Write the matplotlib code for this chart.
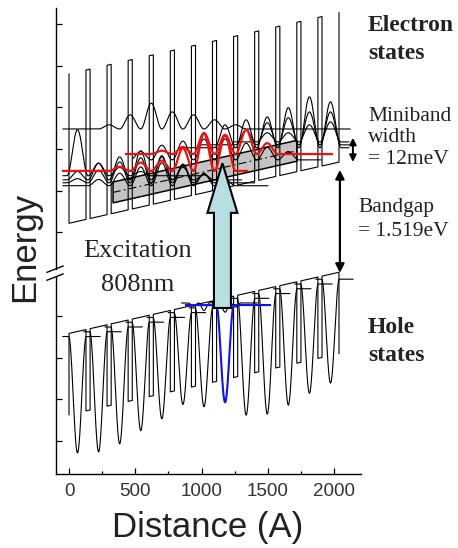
import numpy as np
import matplotlib
matplotlib.use("Agg")
import matplotlib.pyplot as plt
from matplotlib.patches import FancyArrow, Polygon

# ---- superlattice geometry (Angstrom) and band edges (arb. energy units) ----
period = 159.0
well_w = 128.0
n_wells = 13
field = 7.2e-4          # band-edge rise per Angstrom
ec_first = 5.22         # conduction band edge in the first well
ev_first = 2.58         # valence band edge in the first well
barrier_e = 3.58        # conduction barrier height
barrier_h = 1.95        # valence barrier depth

# ---- electron miniband ----
mb_x = [332, 1719]
mb_centre0 = 5.72
mb_half = 0.25

# ---- electron states (black): baseline, extent, peak amplitude per well ----
e_base = [6.36, 6.26, 6.19, 6.12, 6.74, 7.03, 7.10, 7.17, 7.48]
e_x0 = [-45, -45, -45, -45, 480, 830, 980, 1250, -45]
e_x1 = [1000, 1300, 1400, 1500, 1900, 2110, 2110, 2110, 2120]
e_wells = [
    [0, 1, 2, 3],
    [0, 1, 2, 3, 4, 5, 6],
    [0, 1, 2, 3, 4, 5, 6],
    [1, 2, 3, 4, 5, 6, 7],
    [3, 4, 5, 6, 7, 8, 9, 10],
    [7, 8, 9, 10, 11, 12],
    [8, 9, 10, 11, 12],
    [9, 10, 11, 12],
    [1.5, 2.5, 3.5, 4.5, 5.5, 6.5, 7.5],
]
e_amps = [
    [1.10, 0.30, 0.20, 0.10],
    [0.20, 0.40, 0.55, 0.70, 0.55, 0.30, 0.12],
    [0.10, 0.30, 0.50, 0.60, 0.65, 0.45, 0.20],
    [0.15, 0.30, 0.45, 0.55, 0.50, 0.30, 0.15],
    [0.20, 0.35, 0.45, 0.50, 0.50, 0.40, 0.30, 0.20],
    [0.55, 0.67, 0.74, 0.96, 1.22, 1.10],
    [0.36, 0.53, 0.65, 0.79, 0.79],
    [0.22, 0.22, 0.41, 0.48],
    [0.10, 0.34, 0.62, 0.41, 0.34, 0.22, 0.10],
]

# ---- electron states highlighted in red ----
r_base = [6.475, 6.88]
r_x0 = [-45, 430]
r_x1 = [1342, 1983]
r_wells = [[2, 3, 4, 5, 6, 7], [4, 5, 6, 7, 8, 9]]
r_amps = [[0.10, 0.20, 0.25, 0.55, 0.90, 0.85],
          [0.08, 0.17, 0.50, 0.46, 0.58, 0.26]]

# ---- localized hole states: well index and depth of |psi|^2 ----
h_wells = [0, 1, 2, 3, 4, 5, 6, 8, 9, 10, 11, 12]
h_depth = [2.79, 2.88, 2.80, 2.60, 2.43, 2.20, 2.37, 2.80, 2.89, 2.79, 2.62, 2.49]
h_level_offset = 0.12

# hole state excited by the laser (blue) and its delocalized neighbour
blue_base, blue_x = 3.26, [882, 1516]
blue_well, blue_depth = 7, 2.33
wig_base, wig_x = 3.31, [850, 1420]
wig_wells = [5.5, 6, 6.5, 7, 7.5]
wig_amps = [-0.08, -0.18, 0.04, -0.22, -0.10]

# ---- annotations ----
pump_x, pump_y = 1157, [3.19, 6.66]
gap_x, gap_y = 2043, [4.03, 6.50]
mbw_x, mbw_y = 2141, [6.69, 7.27]

x_ticks = [0, 500, 1000, 1500, 2000]
y_ticks = [0, 1, 2, 3, 5, 6, 7, 8, 9, 10]


def well_pos(k):
    return well_w / 2 + period * np.asarray(k, dtype=float)


def wave(base, x0, x1, wells, amps, hw):
    x = np.linspace(x0, x1, 1200)
    y = np.full_like(x, base)
    for p, a in zip(well_pos(wells), amps):
        u = (x - p) / hw
        m = np.abs(u) < 1
        y[m] += a * np.cos(np.pi * u[m] / 2) ** 2
    return x, y


def band_profile(base, height):
    xs = [0.0, 0.0]
    ys = [base + height, base]
    for k in range(n_wells):
        xl = k * period
        xr = xl + well_w
        xs += [xr, xr]
        ys += [base + field * xr, base + height + field * xr]
        if k < n_wells - 1:
            xn = (k + 1) * period
            xs += [xn, xn]
            ys += [base + height + field * xn, base + field * xn]
    return np.array(xs), np.array(ys)


serif = "Liberation Serif"
sans = "Liberation Sans"
txt = "#222222"

fig = plt.figure(figsize=(4.58, 5.48), dpi=100)
ax = fig.add_axes([0.1223, 0.135, 0.6659, 0.8504])
ax.set_xlim(-98, 2202)
ax.set_ylim(-0.79, 10.38)

# band edges
for base, h in [(ec_first, barrier_e), (ev_first, -barrier_h)]:
    bx, by = band_profile(base, h)
    ax.plot(bx, by, color="black", lw=0.8, zorder=2)

# miniband
mx = np.array(mb_x, dtype=float)
mc = mb_centre0 + field * mx
ax.add_patch(Polygon([(mx[0], mc[0] - mb_half), (mx[1], mc[1] - mb_half),
                      (mx[1], mc[1] + mb_half), (mx[0], mc[0] + mb_half)],
                     closed=True, fc="#c4c4c4", ec="black", lw=1.1, zorder=1))
ax.plot(mx, mc, color="black", lw=0.8, ls=(0, (7, 3, 1.5, 3)), zorder=2)

# electron states
for b, x0, x1, w, a in zip(e_base, e_x0, e_x1, e_wells, e_amps):
    x, y = wave(b, x0, x1, w, a, period / 2)
    ax.plot(x, y, color="black", lw=0.8, zorder=3)
for b, x0, x1, w, a in zip(r_base, r_x0, r_x1, r_wells, r_amps):
    x, y = wave(b, x0, x1, w, a, period / 2)
    ax.plot(x, y, color="#ee1111", lw=1.6, zorder=4)

# hole states
for k, d in zip(h_wells, h_depth):
    c = well_pos(k)
    lev = ev_first + field * c - h_level_offset
    x, y = wave(lev, c - 110, c + 170, [k], [-d], 66)
    ax.plot(x, y, color="black", lw=0.8, zorder=3)
x, y = wave(wig_base, wig_x[0], wig_x[1], wig_wells, wig_amps, period / 4)
ax.plot(x, y, color="black", lw=0.8, zorder=3)
x, y = wave(blue_base, blue_x[0], blue_x[1], [blue_well], [-blue_depth], 66)
ax.plot(x, y, color="#1111ee", lw=1.5, zorder=4)

# optical excitation arrow
ax.add_patch(FancyArrow(pump_x, pump_y[0], 0, pump_y[1] - pump_y[0],
                        width=128, head_width=226, head_length=1.19,
                        length_includes_head=True, fc="#b7dfe2", ec="black",
                        lw=1.5, zorder=6))

# bandgap and miniband-width arrows
ax.annotate("", xy=(gap_x, gap_y[1]), xytext=(gap_x, gap_y[0]),
            arrowprops=dict(arrowstyle="<|-|>", color="black", lw=1.6,
                            mutation_scale=13, shrinkA=0, shrinkB=0),
            annotation_clip=False, zorder=5)
ax.annotate("", xy=(mbw_x, mbw_y[1]), xytext=(mbw_x, mbw_y[0]),
            arrowprops=dict(arrowstyle="<|-|>", color="black", lw=1.4,
                            mutation_scale=10, shrinkA=0, shrinkB=0),
            annotation_clip=False, zorder=5)

# axes styling with a broken energy axis
for s in ["top", "right", "left"]:
    ax.spines[s].set_visible(False)
ax.spines["bottom"].set_linewidth(1.0)
ytr = ax.get_yaxis_transform()
ax.plot([0, 0], [-0.79, 3.93], transform=ytr, color="black", lw=1.0,
        clip_on=False, zorder=7)
ax.plot([0, 0], [4.12, 10.38], transform=ytr, color="black", lw=1.0,
        clip_on=False, zorder=7)
for yc in [4.12, 3.93]:
    ax.plot([-166, -45], [yc - 0.075, yc + 0.075], color="black", lw=1.0,
            clip_on=False, zorder=7)

ax.set_xticks(x_ticks)
ax.set_xticks([250, 750, 1250, 1750], minor=True)
ax.set_yticks(y_ticks)
ax.set_yticklabels([])
ax.tick_params(axis="both", which="major", direction="in", length=4.5,
               width=0.9, labelsize=13.5, labelcolor="#333333", pad=6.5)
ax.tick_params(axis="x", which="minor", direction="in", length=2.5, width=0.9)
for lab in ax.get_xticklabels():
    lab.set_fontfamily(sans)

# axis titles
fig.text(208 / 458, 1 - 527 / 548, "Distance (A)", fontsize=25, family=sans,
         color=txt, ha="center", va="center")
fig.text(25 / 458, 1 - 247 / 548, "Energy", rotation=90, fontsize=25,
         family=sans, color=txt, ha="center", va="center")


# labels
def ftext(px, py, s, **kw):
    fig.text(px / 458, 1 - py / 548, s, color=txt, family=serif,
             va="baseline", **kw)


ftext(368, 31, "Electron", fontsize=17, weight="bold")
ftext(368, 59, "states", fontsize=17, weight="bold")
ftext(368, 121, "Miniband", fontsize=15.5)
ftext(368, 142, "width", fontsize=15.5)
ftext(368, 164, "= 12meV", fontsize=15.5)
ftext(358, 212, "Bandgap", fontsize=15.5)
ftext(358, 236, "= 1.519eV", fontsize=15.5)
ftext(368, 333, "Hole", fontsize=17, weight="bold")
ftext(368, 361, "states", fontsize=17, weight="bold")
ftext(137.5, 257, "Excitation", fontsize=19, ha="center")
ftext(137.5, 291, "808nm", fontsize=19, ha="center")

fig.savefig("out.png", dpi=100)
